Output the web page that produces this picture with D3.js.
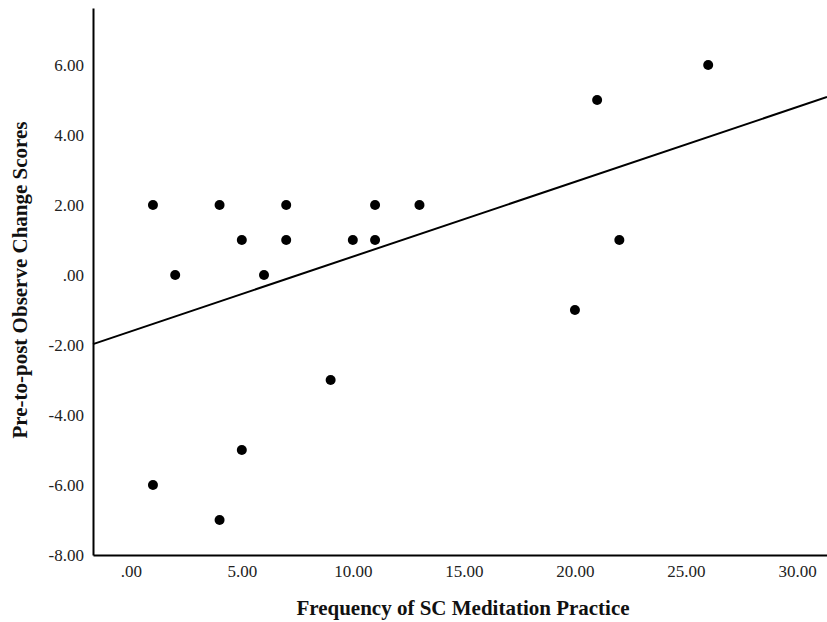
<!DOCTYPE html>
<html>
<head>
<meta charset="utf-8">
<script src="https://cdn.jsdelivr.net/npm/d3@7"></script>
<style>
  body { margin: 0; background: #fff; }
  svg { display: block; }
</style>
</head>
<body>
<svg id="chart" width="827" height="622"></svg>
<script>
// Data
const frequency = [1, 4, 7, 11, 13, 5, 7, 10, 11, 2, 6, 22, 20, 21, 26, 9, 5, 1, 4];
const changeScores = [2, 2, 2, 2, 2, 1, 1, 1, 1, 0, 0, 1, -1, 5, 6, -3, -5, -6, -7];
const xTicks = [0, 5, 10, 15, 20, 25, 30];
const yTicks = [-8, -6, -4, -2, 0, 2, 4, 6];
const fitIntercept = -1.61;
const fitSlope = 0.2136;
const xTitle = "Frequency of SC Meditation Practice";
const yTitle = "Pre-to-post Observe Change Scores";

const svg = d3.select("#chart");
const fmt = v => (v === 0 ? ".00" : v.toFixed(2));

const xDomain = [-1.7, 31.35];
const yDomain = [-8, 7.63];
const x = d3.scaleLinear().domain(xDomain).range([93, 827]);
const y = d3.scaleLinear().domain(yDomain).range([555, 8]);

const font = "'Liberation Serif', 'Times New Roman', serif";

// axes
const xAxis = d3.axisBottom(x).tickValues(xTicks).tickFormat(fmt).tickSize(0).tickPadding(10);
const yAxis = d3.axisLeft(y).tickValues(yTicks).tickFormat(fmt).tickSize(0).tickPadding(9);

const gx = svg.append("g").attr("transform", `translate(0,${y(-8)})`).call(xAxis);
const gy = svg.append("g").attr("transform", `translate(${x(xDomain[0])},0)`).call(yAxis);

[gx, gy].forEach(g => {
  g.select(".domain").attr("stroke", "#000").attr("stroke-width", 2);
  g.selectAll("text").attr("font-family", font).attr("font-size", 17).attr("fill", "#222");
});

// regression line
const line = d3.line().x(d => x(d)).y(d => y(fitIntercept + fitSlope * d));
svg.append("path")
  .datum(xDomain)
  .attr("d", line)
  .attr("fill", "none")
  .attr("stroke", "#000")
  .attr("stroke-width", 2);

// points
svg.append("g").selectAll("circle")
  .data(frequency.map((f, i) => [f, changeScores[i]]))
  .join("circle")
  .attr("cx", d => x(d[0]))
  .attr("cy", d => y(d[1]))
  .attr("r", 5)
  .attr("fill", "#000");

// titles
svg.append("text")
  .attr("x", 463).attr("y", 615)
  .attr("text-anchor", "middle")
  .attr("font-family", font).attr("font-weight", "bold").attr("font-size", 21)
  .attr("fill", "#111")
  .text(xTitle);

svg.append("text")
  .attr("transform", "translate(27,280) rotate(-90)")
  .attr("text-anchor", "middle")
  .attr("font-family", font).attr("font-weight", "bold").attr("font-size", 21)
  .attr("fill", "#111")
  .text(yTitle);
</script>
</body>
</html>
